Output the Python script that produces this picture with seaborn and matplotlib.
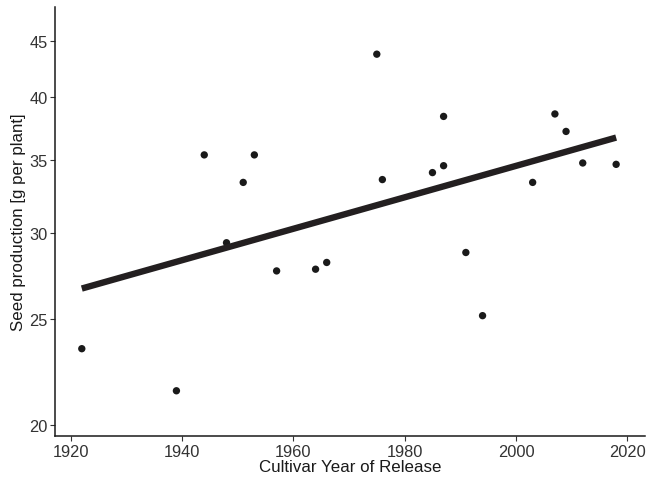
import numpy as np
import pandas as pd
import seaborn as sns
import matplotlib.pyplot as plt
from matplotlib.ticker import FixedLocator, NullLocator

# Values
years = [1922, 1939, 1944, 1948, 1951, 1953, 1957, 1964, 1966, 1975, 1976,
         1985, 1987, 1987, 1991, 1994, 2003, 2007, 2009, 2012, 2018]
seed = [23.5, 21.5, 35.4, 29.4, 33.4, 35.4, 27.7, 27.8, 28.2, 43.8, 33.6,
        34.1, 38.4, 34.6, 28.8, 25.2, 33.4, 38.6, 37.2, 34.8, 34.7]
y_ticks = [20, 25, 30, 35, 40, 45]
x_ticks = [1920, 1940, 1960, 1980, 2000, 2020]

df = pd.DataFrame({'year': years, 'seed': seed})

# Linear fit on the log scale
slope, intercept = np.polyfit(df['year'], np.log(df['seed']), 1)
fit = pd.DataFrame({'year': [min(years), max(years)]})
fit['seed'] = np.exp(intercept + slope * fit['year'])

sns.set_theme(style='ticks')
plt.rcParams['font.family'] = ['Liberation Sans', 'DejaVu Sans']

fig = plt.figure(figsize=(6.48, 4.81), dpi=100)
ax = fig.add_axes([0.085, 0.0915, 0.9105, 0.892])

sns.scatterplot(data=df, x='year', y='seed', ax=ax, color='#1a1a1a',
                s=28, edgecolor='none')
sns.lineplot(data=fit, x='year', y='seed', ax=ax, color='#231f20',
             linewidth=4.6, solid_capstyle='butt')

ax.set_yscale('log')
ax.set_xlim(1917.2, 2023.2)
ax.set_ylim(19.54, 48.4)
ax.yaxis.set_major_locator(FixedLocator(y_ticks))
ax.yaxis.set_minor_locator(NullLocator())
ax.set_yticklabels([str(t) for t in y_ticks])
ax.set_xticks(x_ticks)
ax.set_xticklabels([str(t) for t in x_ticks])

ax.set_xlabel('Cultivar Year of Release', fontsize=12.2, color='#1a1a1a', labelpad=0)
ax.set_ylabel('Seed production [g per plant]', fontsize=12.2, color='#1a1a1a', labelpad=2)
ax.tick_params(axis='both', labelsize=11.8, labelcolor='#333333', color='#333333',
               length=3.5, width=0.8, pad=2)
for side in ['top', 'right']:
    ax.spines[side].set_visible(False)
for side in ['left', 'bottom']:
    ax.spines[side].set_color('#1a1a1a')
    ax.spines[side].set_linewidth(1.1)

fig.savefig('out.png', dpi=100)
